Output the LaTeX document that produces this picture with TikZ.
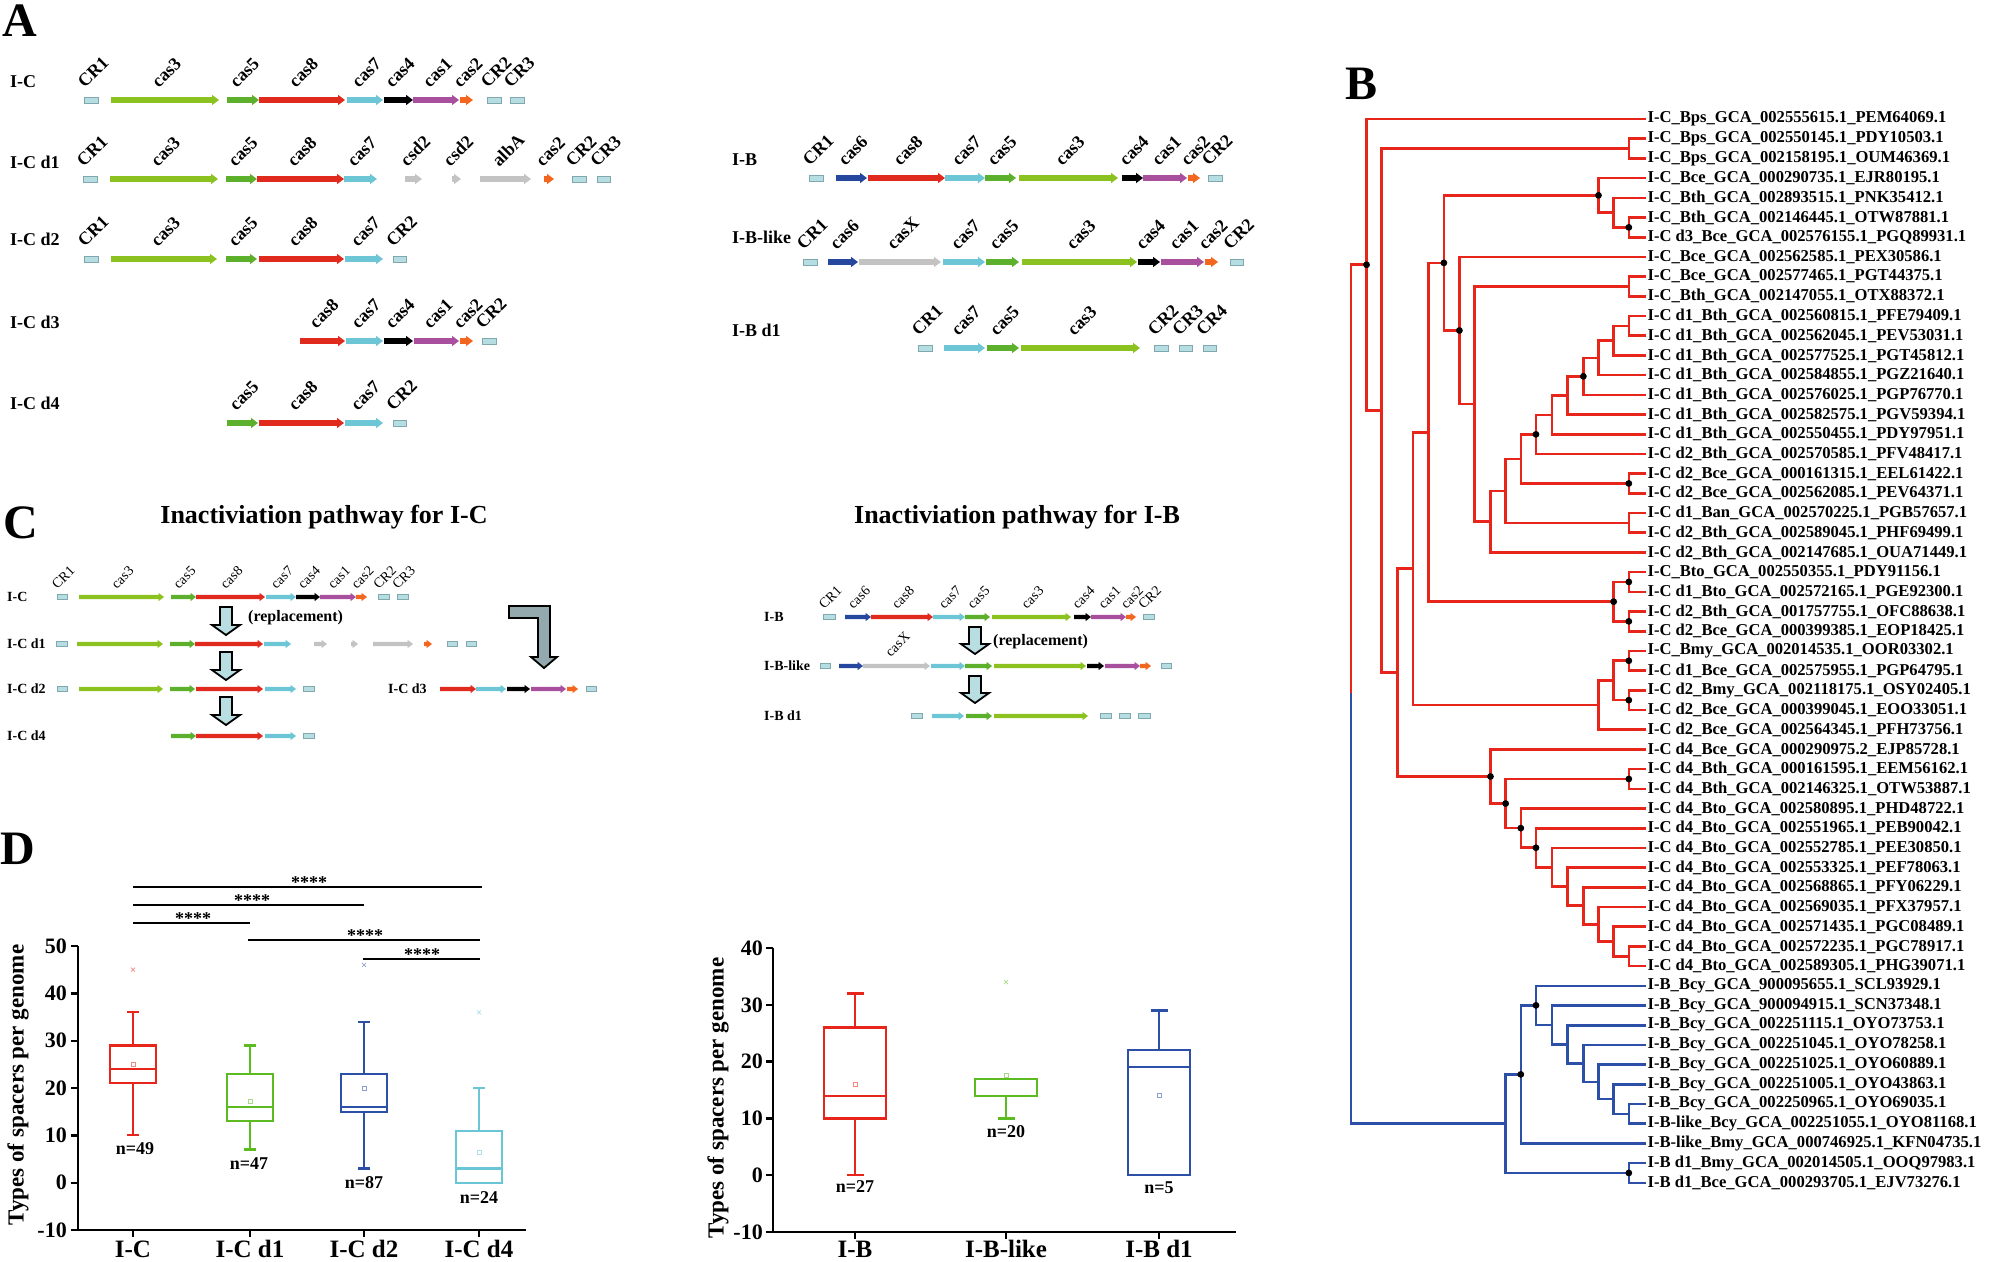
\documentclass[tikz,border=0pt]{standalone}
\usepackage{fontspec}
\setmainfont{Liberation Serif}
\usetikzlibrary{calc,positioning}

\definecolor{gLime}{HTML}{8CC21F}
\definecolor{gGreen}{HTML}{5CB02C}
\definecolor{gRed}{HTML}{E02A1E}
\definecolor{gCyan}{HTML}{6CC6D6}
\definecolor{gPurple}{HTML}{A8509E}
\definecolor{gOrange}{HTML}{F2661F}
\definecolor{gBlue}{HTML}{25479E}
\definecolor{gGray}{HTML}{C3C3C3}
\definecolor{crFill}{HTML}{B6DDE1}
\definecolor{crLine}{HTML}{7FA9AE}
\definecolor{tRed}{HTML}{E8251A}
\definecolor{tBlue}{HTML}{2C4FA7}
\definecolor{pGreen}{HTML}{5DBB22}
\definecolor{pCyan}{HTML}{6AC5D7}
\definecolor{downFill}{HTML}{B8DEE2}
\definecolor{elbowFill}{HTML}{93A9AE}

\newcommand{\fs}[1]{\fontsize{#1}{#1}\selectfont}
\def\crn{cr}
% arrow and spacer sizes (panel A); panel C sets its own
\def\gbh{2.8}\def\ghh{5.2}\def\ghl{7}\def\gch{3}\def\glx{6}\def\gly{11}
\def\glabfont{\bfseries\fs{18}}
\def\rowfont{\bfseries\fs{18}}
\def\bcap{6}

\newcommand{\gene}[4]{\fill[fill=#4] (#1,#3-\gbh) -- ({#2-\ghl},#3-\gbh) -- ({#2-\ghl},#3-\ghh) -- (#2,#3) -- ({#2-\ghl},#3+\ghh) -- ({#2-\ghl},#3+\gbh) -- (#1,#3+\gbh) -- cycle;}
\newcommand{\crbox}[3]{\filldraw[spacer] (#1,#3-\gch) rectangle (#2,#3+\gch);}
\newcommand{\gunit}[4]{\edef\tmp{#4}\ifx\tmp\crn\crbox{#1}{#2}{#3}\else\gene{#1}{#2}{#3}{#4}\fi}
\newcommand{\operon}[2]{\foreach \a/\b/\c/\t in {#2}{\gunit{\a}{\b}{#1}{\c}\node[glab] at ({(\a+\b)/2-\glx},{#1-\gly}) {\t};}}
\newcommand{\bare}[2]{\foreach \a/\b/\c in {#2}{\gunit{\a}{\b}{#1}{\c}}}
\newcommand{\downarr}[3]{\filldraw[blockarrow] (#1-6,#2) -- (#1+6,#2) -- (#1+6,#3-10) -- (#1+14,#3-10) -- (#1,#3) -- (#1-14,#3-10) -- (#1-6,#3-10) -- cycle;}
% tree: name, x, child, child, colour
\newcommand{\clade}[5]{\path ($(#3)!.5!(#4)$) coordinate (m#1);
  \coordinate (#1) at (#2,0 |- m#1);
  \draw[branch,#5] (#3) -| (#1) |- (#4);}
% box plot: yfun, x, half width, lo, q1, med, q3, hi, colour
\newcommand{\bplot}[9]{%
  \draw[box,#9] ({#2-#3},{#1(#5)}) rectangle ({#2+#3},{#1(#7)});
  \draw[box,#9] ({#2-#3},{#1(#6)}) -- ({#2+#3},{#1(#6)});
  \draw[box,#9] (#2,{#1(#7)}) -- (#2,{#1(#8)}) ({#2-\bcap},{#1(#8)}) -- ({#2+\bcap},{#1(#8)});
  \draw[box,#9] (#2,{#1(#5)}) -- (#2,{#1(#4)}) ({#2-\bcap},{#1(#4)}) -- ({#2+\bcap},{#1(#4)});}
\newcommand{\bmean}[3]{\draw[#3!55,line width=0.7pt] ({#1-2},{#2-2}) rectangle ({#1+2},{#2+2});}
\newcommand{\bout}[3]{\draw[#3!55,line width=0.7pt] ({#1-2},{#2-2}) -- ({#1+2},{#2+2}) ({#1-2},{#2+2}) -- ({#1+2},{#2-2});}

\tikzset{
  spacer/.style={fill=crFill,draw=crLine,line width=0.8pt},
  glab/.style={rotate=45,anchor=south west,inner sep=0pt,font=\glabfont},
  rowlab/.style={anchor=west,inner sep=0pt,font=\rowfont},
  panel/.style={anchor=base west,inner sep=0pt,font=\bfseries\fs{48}},
  title/.style={anchor=base,inner sep=0pt,font=\bfseries\fs{26}},
  note/.style={anchor=west,inner sep=0pt,font=\bfseries\fs{16}},
  blockarrow/.style={fill=downFill,draw=black,line width=1.8pt},
  elbow/.style={fill=elbowFill,draw=black,line width=1.8pt},
  leaf/.style={anchor=west,inner sep=1.5pt,font=\bfseries\fs{16.6}},
  branch/.style={line width=2.6pt},
  knot/.style={fill=black},
  axis/.style={line width=2.4pt,black},
  box/.style={line width=2.2pt},
  tick/.style={anchor=east,inner sep=0pt,font=\bfseries\fs{22}},
  cat/.style={anchor=base,inner sep=0pt,font=\bfseries\fs{25}},
  nlab/.style={inner sep=0pt,font=\bfseries\fs{18}},
  star/.style={anchor=base,inner sep=0pt,font=\bfseries\fs{18}},
  sig/.style={line width=2.4pt,black},
  ytitle/.style={rotate=90,inner sep=0pt,font=\bfseries\fs{23}}
}

\begin{document}
\begin{tikzpicture}[x=1pt,y=-1pt,
  declare function={ya(\v)=1182.7-4.733*(\v); yb(\v)=1175.2-5.68*(\v);}]
\useasboundingbox (0,0) rectangle (1993,1261);

\node[panel] (pA) at (2,36) {A};
\node[panel] (pB) at (1345,99) {B};
\node[panel] (pC) at (3,538) {C};
\node[panel] (pD) at (0,864) {D};

% ---- A: I-C loci
\node[rowlab] (aIC) at (10,82) {I-C};
\node[rowlab] (aIC1) at (10,162) {I-C d1};
\node[rowlab] (aIC2) at (10,239) {I-C d2};
\node[rowlab] (aIC3) at (10,322) {I-C d3};
\node[rowlab] (aIC4) at (10,403) {I-C d4};
\operon{100}{84/98/cr/CR1, 111/219/gLime/cas3, 227/259/gGreen/cas5, 259/345/gRed/cas8, 347/383/gCyan/cas7, 384/413/black/cas4, 413/459/gPurple/cas1, 460/473/gOrange/cas2, 487/501/cr/CR2, 510/524/cr/CR3}
\operon{179}{83/97/cr/CR1, 110/218/gLime/cas3, 226/257/gGreen/cas5, 257/344/gRed/cas8, 344/377/gCyan/cas7, 405/422/gGray/csd2, 452/461/gGray/csd2, 480/531/gGray/albA, 544/554/gOrange/cas2, 572/586/cr/CR2, 597/610/cr/CR3}
\operon{259}{84/98/cr/CR1, 111/217/gLime/cas3, 226/257/gGreen/cas5, 259/344/gRed/cas8, 345/383/gCyan/cas7, 393/406/cr/CR2}
\operon{341}{300/345/gRed/cas8, 346/383/gCyan/cas7, 384/413/black/cas4, 414/459/gPurple/cas1, 460/473/gOrange/cas2, 482/496/cr/CR2}
\operon{423}{227/258/gGreen/cas5, 259/344/gRed/cas8, 345/383/gCyan/cas7, 393/406/cr/CR2}

% ---- A: I-B loci
\node[rowlab] (aIB) at (732,160) {I-B};
\node[rowlab] (aIBl) at (732,237) {I-B-like};
\node[rowlab] (aIB1) at (732,330) {I-B d1};
\operon{178}{809/823/cr/CR1, 836/867/gBlue/cas6, 868/945/gRed/cas8, 945/985/gCyan/cas7, 985/1016/gGreen/cas5, 1019/1118/gLime/cas3, 1122/1143/black/cas4, 1143/1187/gPurple/cas1, 1188/1200/gOrange/cas2, 1208/1222/cr/CR2}
\operon{262}{803/817/cr/CR1, 828/858/gBlue/cas6, 859/941/gGray/casX, 943/985/gCyan/cas7, 986/1019/gGreen/cas5, 1022/1137/gLime/cas3, 1138/1160/black/cas4, 1161/1204/gPurple/cas1, 1205/1218/gOrange/cas2, 1230/1243/cr/CR2}
\operon{348}{918/932/cr/CR1, 944/985/gCyan/cas7, 987/1019/gGreen/cas5, 1021/1140/gLime/cas3, 1154/1168/cr/CR2, 1179/1192/cr/CR3, 1203/1216/cr/CR4}

% ---- C: inactivation pathways
\node[title] (tIC) at (324,523) {Inactiviation pathway for I-C};
\node[title] (tIB) at (1017,523) {Inactiviation pathway for I-B};
\begin{scope}
\def\gbh{2.2}\def\ghh{4.2}\def\ghl{5.5}\def\gch{2.6}\def\glx{4.5}\def\gly{7}
\def\glabfont{\fs{14}}\def\rowfont{\bfseries\fs{14}}
\node[rowlab] (cIC) at (7,597) {I-C};
\node[rowlab] (cIC1) at (7,644) {I-C d1};
\node[rowlab] (cIC2) at (7,689) {I-C d2};
\node[rowlab] (cIC4) at (7,736) {I-C d4};
\node[rowlab] (cIC3) at (388,689) {I-C d3};
\operon{597}{57/67/cr/CR1, 79/164/gLime/cas3, 171/196/gGreen/cas5, 196/265/gRed/cas8, 266/296/gCyan/cas7, 296/320/black/cas4, 320/356/gPurple/cas1, 356/367/gOrange/cas2, 378/389/cr/CR2, 397/408/cr/CR3}
\bare{644}{56/67/cr, 77/163/gLime, 170/195/gGreen, 195/263/gRed, 264/291/gCyan, 314/327/gGray, 351/358/gGray, 373/413/gGray, 424/432/gOrange, 447/457/cr, 466/476/cr}
\bare{689}{57/67/cr, 79/163/gLime, 170/195/gGreen, 196/263/gRed, 265/296/gCyan, 303/314/cr}
\bare{736}{171/196/gGreen, 196/263/gRed, 265/296/gCyan, 303/314/cr}
\bare{689}{440/476/gRed, 476/506/gCyan, 507/530/black, 531/566/gPurple, 567/578/gOrange, 586/596/cr}
\downarr{226}{607}{635}
\downarr{226}{652}{680}
\downarr{226}{697}{725}
\coordinate (shaftL) at (232,618);
\node[note, right=16pt of shaftL] (replL) {(replacement)};
\filldraw[elbow] (509,606) -- (550,606) -- (550,657) -- (557,657) -- (544,668) -- (531,657) -- (538,657) -- (538,618) -- (509,618) -- cycle;

\node[rowlab] (cIB) at (764,617) {I-B};
\node[rowlab] (cIBl) at (764,666) {I-B-like};
\node[rowlab] (cIB1) at (764,716) {I-B d1};
\operon{617}{823/835/cr/CR1, 845/871/gBlue/cas6, 871/933/gRed/cas8, 933/965/gCyan/cas7, 965/990/gGreen/cas5, 992/1071/gLime/cas3, 1074/1091/black/cas4, 1091/1126/gPurple/cas1, 1126/1136/gOrange/cas2, 1143/1154/cr/CR2}
\bare{666}{820/830/cr, 839/863/gBlue, 863/930/gGray, 931/965/gCyan, 965/992/gGreen, 994/1086/gLime, 1087/1104/black, 1105/1140/gPurple, 1140/1151/gOrange, 1161/1171/cr}
\node[glab] (casX) at (891,658) {casX};
\bare{716}{911/922/cr, 932/964/gCyan, 966/992/gGreen, 994/1088/gLime, 1100/1111/cr, 1119/1130/cr, 1138/1150/cr}
\downarr{975}{627}{654}
\downarr{975}{676}{703}
\coordinate (shaftR) at (981,642);
\node[note, right=12pt of shaftR] (replR) {(replacement)};
\end{scope}

% ---- B: tree
\begin{scope}[shift={(1331.3,0)}, x=0.379pt]
\foreach \i in {1,...,55} \coordinate (l\i) at (830,{119+(\i-1)*19.7});
\foreach \t [count=\i] in {
I-C\_Bps\_GCA\_002555615.1\_PEM64069.1,
I-C\_Bps\_GCA\_002550145.1\_PDY10503.1,
I-C\_Bps\_GCA\_002158195.1\_OUM46369.1,
I-C\_Bce\_GCA\_000290735.1\_EJR80195.1,
I-C\_Bth\_GCA\_002893515.1\_PNK35412.1,
I-C\_Bth\_GCA\_002146445.1\_OTW87881.1,
I-C d3\_Bce\_GCA\_002576155.1\_PGQ89931.1,
I-C\_Bce\_GCA\_002562585.1\_PEX30586.1,
I-C\_Bce\_GCA\_002577465.1\_PGT44375.1,
I-C\_Bth\_GCA\_002147055.1\_OTX88372.1,
I-C d1\_Bth\_GCA\_002560815.1\_PFE79409.1,
I-C d1\_Bth\_GCA\_002562045.1\_PEV53031.1,
I-C d1\_Bth\_GCA\_002577525.1\_PGT45812.1,
I-C d1\_Bth\_GCA\_002584855.1\_PGZ21640.1,
I-C d1\_Bth\_GCA\_002576025.1\_PGP76770.1,
I-C d1\_Bth\_GCA\_002582575.1\_PGV59394.1,
I-C d1\_Bth\_GCA\_002550455.1\_PDY97951.1,
I-C d2\_Bth\_GCA\_002570585.1\_PFV48417.1,
I-C d2\_Bce\_GCA\_000161315.1\_EEL61422.1,
I-C d2\_Bce\_GCA\_002562085.1\_PEV64371.1,
I-C d1\_Ban\_GCA\_002570225.1\_PGB57657.1,
I-C d2\_Bth\_GCA\_002589045.1\_PHF69499.1,
I-C d2\_Bth\_GCA\_002147685.1\_OUA71449.1,
I-C\_Bto\_GCA\_002550355.1\_PDY91156.1,
I-C d1\_Bto\_GCA\_002572165.1\_PGE92300.1,
I-C d2\_Bth\_GCA\_001757755.1\_OFC88638.1,
I-C d2\_Bce\_GCA\_000399385.1\_EOP18425.1,
I-C\_Bmy\_GCA\_002014535.1\_OOR03302.1,
I-C d1\_Bce\_GCA\_002575955.1\_PGP64795.1,
I-C d2\_Bmy\_GCA\_002118175.1\_OSY02405.1,
I-C d2\_Bce\_GCA\_000399045.1\_EOO33051.1,
I-C d2\_Bce\_GCA\_002564345.1\_PFH73756.1,
I-C d4\_Bce\_GCA\_000290975.2\_EJP85728.1,
I-C d4\_Bth\_GCA\_000161595.1\_EEM56162.1,
I-C d4\_Bth\_GCA\_002146325.1\_OTW53887.1,
I-C d4\_Bto\_GCA\_002580895.1\_PHD48722.1,
I-C d4\_Bto\_GCA\_002551965.1\_PEB90042.1,
I-C d4\_Bto\_GCA\_002552785.1\_PEE30850.1,
I-C d4\_Bto\_GCA\_002553325.1\_PEF78063.1,
I-C d4\_Bto\_GCA\_002568865.1\_PFY06229.1,
I-C d4\_Bto\_GCA\_002569035.1\_PFX37957.1,
I-C d4\_Bto\_GCA\_002571435.1\_PGC08489.1,
I-C d4\_Bto\_GCA\_002572235.1\_PGC78917.1,
I-C d4\_Bto\_GCA\_002589305.1\_PHG39071.1,
I-B\_Bcy\_GCA\_900095655.1\_SCL93929.1,
I-B\_Bcy\_GCA\_900094915.1\_SCN37348.1,
I-B\_Bcy\_GCA\_002251115.1\_OYO73753.1,
I-B\_Bcy\_GCA\_002251045.1\_OYO78258.1,
I-B\_Bcy\_GCA\_002251025.1\_OYO60889.1,
I-B\_Bcy\_GCA\_002251005.1\_OYO43863.1,
I-B\_Bcy\_GCA\_002250965.1\_OYO69035.1,
I-B-like\_Bcy\_GCA\_002251055.1\_OYO81168.1,
I-B-like\_Bmy\_GCA\_000746925.1\_KFN04735.1,
I-B d1\_Bmy\_GCA\_002014505.1\_OOQ97983.1,
I-B d1\_Bce\_GCA\_000293705.1\_EJV73276.1}
  \node[leaf] (t\i) at (l\i) {\t};
% I-C clade
\clade{n6x7}{785}{l6}{l7}{tRed}
\clade{n5x7}{745}{l5}{n6x7}{tRed}
\clade{n4x7}{705}{l4}{n5x7}{tRed}
\clade{n2x3}{785}{l2}{l3}{tRed}
\clade{n9x10}{785}{l9}{l10}{tRed}
\clade{n11x12}{785}{l11}{l12}{tRed}
\clade{r17}{745}{n11x12}{l13}{tRed}
\clade{r16}{705}{r17}{l14}{tRed}
\clade{r15}{665}{r16}{l15}{tRed}
\clade{r14}{623}{r15}{l16}{tRed}
\clade{r13}{582}{r14}{l17}{tRed}
\clade{r12}{540}{r13}{l18}{tRed}
\clade{n19x20}{785}{l19}{l20}{tRed}
\clade{r11}{500}{r12}{n19x20}{tRed}
\clade{n21x22}{785}{l21}{l22}{tRed}
\clade{r10}{460}{r11}{n21x22}{tRed}
\clade{r9}{420}{r10}{l23}{tRed}
\clade{r8}{378}{n9x10}{r9}{tRed}
\clade{r7}{338}{l8}{r8}{tRed}
\clade{r6}{297}{n4x7}{r7}{tRed}
\clade{n24x25}{785}{l24}{l25}{tRed}
\clade{n26x27}{785}{l26}{l27}{tRed}
\clade{n24x27}{745}{n24x25}{n26x27}{tRed}
\clade{r5}{257}{r6}{n24x27}{tRed}
\clade{n28x29}{785}{l28}{l29}{tRed}
\clade{n30x31}{785}{l30}{l31}{tRed}
\clade{n28x31}{745}{n28x29}{n30x31}{tRed}
\clade{n28x32}{705}{n28x31}{l32}{tRed}
\clade{r4}{215}{r5}{n28x32}{tRed}
\clade{n34x35}{785}{l34}{l35}{tRed}
\clade{d10}{785}{l43}{l44}{tRed}
\clade{d9}{745}{l42}{d10}{tRed}
\clade{d8}{705}{l41}{d9}{tRed}
\clade{d7}{665}{l40}{d8}{tRed}
\clade{d6}{623}{l39}{d7}{tRed}
\clade{d5}{582}{l38}{d6}{tRed}
\clade{d4}{540}{l37}{d5}{tRed}
\clade{d3}{500}{l36}{d4}{tRed}
\clade{d2}{460}{n34x35}{d3}{tRed}
\clade{d1}{420}{l33}{d2}{tRed}
\clade{r3}{175}{r4}{d1}{tRed}
\clade{r2}{133}{n2x3}{r3}{tRed}
\clade{r1}{93}{l1}{r2}{tRed}
% I-B clade
\clade{b9}{785}{l51}{l52}{tBlue}
\clade{b8}{745}{l50}{b9}{tBlue}
\clade{b7}{705}{l49}{b8}{tBlue}
\clade{b6}{665}{l48}{b7}{tBlue}
\clade{b5}{623}{l47}{b6}{tBlue}
\clade{b4}{582}{l46}{b5}{tBlue}
\clade{b3}{540}{l45}{b4}{tBlue}
\clade{b2}{500}{b3}{l53}{tBlue}
\clade{n54x55}{785}{l54}{l55}{tBlue}
\clade{b1}{460}{b2}{n54x55}{tBlue}
% root
\coordinate (rsplit) at (52,693);
\draw[branch,tRed] (r1) -| (rsplit);
\draw[branch,tBlue] (b1) -| (rsplit);
\foreach \k in {r1,r6,r7,r12,r15,n4x7,n6x7,n19x20,n24x25,n26x27,n24x27,n28x29,n30x31,n34x35,d1,d2,d3,d4,b2,b3,n54x55}
  \fill[knot] (\k) circle (3.4pt);
\end{scope}

% ---- D: spacer counts, I-C
\draw[axis] (78,{ya(50)}) -- (78,{ya(-10)}) -- (526,{ya(-10)});
\foreach \v in {-10,0,...,50} {
  \draw[axis] (71,{ya(\v)}) -- (78,{ya(\v)});
  \node[tick] at (67,{ya(\v)}) {\v};
}
\foreach \x/\t in {133/I-C, 250/I-C d1, 364/I-C d2, 479/I-C d4} {
  \draw[axis] (\x,1230) -- (\x,1237);
  \node[cat] at (\x,1257) {\t};
}
\node[ytitle] (yl) at (18,1085) {Types of spacers per genome};
\bplot{ya}{133}{23}{10}{21}{24}{29}{36}{tRed}
\bplot{ya}{250}{23}{7}{13}{16}{23}{29}{pGreen}
\bplot{ya}{364}{23}{3}{15}{16}{23}{34}{tBlue}
\bplot{ya}{479}{23}{0}{0}{3}{11}{20}{pCyan}
\bmean{133}{ya(25)}{tRed}\bout{133}{ya(45)}{tRed}
\bmean{250}{ya(17.2)}{pGreen}
\bmean{364}{ya(20)}{tBlue}\bout{364}{ya(46)}{tBlue}
\bmean{479}{ya(6.5)}{pCyan}\bout{479}{ya(36)}{pCyan}
\node[nlab] (n49) at (135,1149) {n=49};
\node[nlab] (n47) at (249,1164) {n=47};
\node[nlab] (n87) at (364,1183) {n=87};
\node[nlab] (n24) at (479,1198) {n=24};
\draw[sig] (133,887) -- (482,887); \node[star] at (309,888) {****};
\draw[sig] (133,905) -- (364,905); \node[star] at (252,906) {****};
\draw[sig] (133,923) -- (250,923); \node[star] at (193,924) {****};
\draw[sig] (248,940) -- (480,940); \node[star] at (365,941) {****};
\draw[sig] (363,959) -- (480,959); \node[star] at (422,960) {****};

% ---- D: spacer counts, I-B
\begin{scope}
\def\bcap{8.5}
\draw[axis] (773,{yb(40)}) -- (773,{yb(-10)}) -- (1236,{yb(-10)});
\foreach \v in {-10,0,...,40} {
  \draw[axis] (766,{yb(\v)}) -- (773,{yb(\v)});
  \node[tick] at (763,{yb(\v)}) {\v};
}
\foreach \x/\t in {855/I-B, 1006/I-B-like, 1159/I-B d1} {
  \draw[axis] (\x,1232) -- (\x,1239);
  \node[cat] at (\x,1257) {\t};
}
\node[ytitle] (yr) at (718,1098) {Types of spacers per genome};
\bplot{yb}{855}{31}{0}{10}{14}{26}{32}{tRed}
\bplot{yb}{1006}{31}{10}{14}{14}{17}{17}{pGreen}
\bplot{yb}{1159}{31}{0}{0}{19}{22}{29}{tBlue}
\bmean{855}{yb(16)}{tRed}
\bmean{1006}{yb(17.5)}{pGreen}\bout{1006}{yb(34)}{pGreen}
\bmean{1159}{yb(14)}{tBlue}
\node[nlab] (n27) at (855,1187) {n=27};
\node[nlab] (n20) at (1006,1132) {n=20};
\node[nlab] (n5) at (1159,1188) {n=5};
\end{scope}
\end{tikzpicture}
\end{document}
